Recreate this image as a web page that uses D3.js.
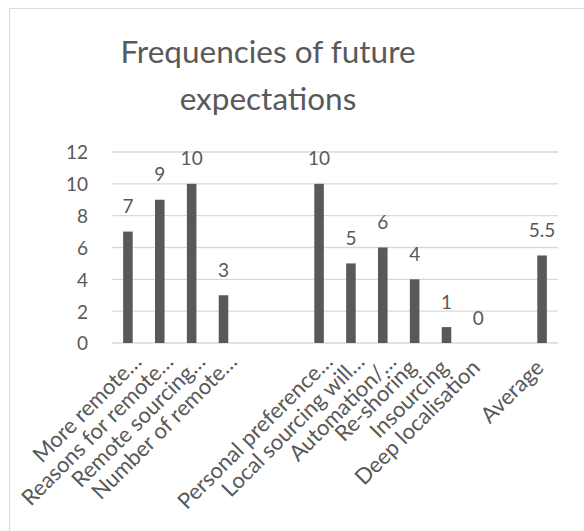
<!DOCTYPE html>
<html>
<head>
<meta charset="utf-8">
<script src="https://cdn.jsdelivr.net/npm/d3@7"></script>
<style>
    body { margin: 0; background: #fff; }
    svg { display: block; }
</style>
</head>
<body>
<svg></svg>
<script>
const width = 584;
const height = 531;

const titleLines = ["Frequencies of future", "expectations"];
const categories = [
    "More remote…",
    "Reasons for remote…",
    "Remote sourcing…",
    "Number of remote…",
    "",
    "",
    "Personal preference…",
    "Local sourcing will…",
    "Automation/…",
    "Re-shoring",
    "Insourcing",
    "Deep localisation",
    "",
    "Average"
];
const values = [7, 9, 10, 3, null, null, 10, 5, 6, 4, 1, 0, null, 5.5];
const yTicks = [0, 2, 4, 6, 8, 10, 12];

const textColor = "#595959";
const barColor = "#595959";
const gridColor = "#d9d9d9";
const font = "Lato, 'Open Sans', sans-serif";

const svg = d3.select("svg").attr("width", width).attr("height", height);

// chart frame
svg.append("rect")
    .attr("x", 9.5)
    .attr("y", 8.5)
    .attr("width", 700)
    .attr("height", 600)
    .attr("fill", "#fff")
    .attr("stroke", gridColor);

const plot = { left: 112, right: 558, top: 152, bottom: 343 };

const x = d3.scaleBand()
    .domain(d3.range(categories.length))
    .range([plot.left, plot.right])
    .paddingInner(0.7)
    .paddingOuter(0.35);

const y = d3.scaleLinear()
    .domain([0, 12])
    .range([plot.bottom, plot.top]);

// title
svg.append("text")
    .attr("x", 268)
    .attr("y", 63)
    .attr("text-anchor", "middle")
    .attr("font-family", font)
    .attr("font-size", 31.5)
    .attr("fill", textColor)
    .selectAll("tspan")
    .data(titleLines)
    .enter()
    .append("tspan")
    .attr("x", 268)
    .attr("dy", (d, i) => i === 0 ? 0 : 47)
    .text(d => d);

// gridlines
svg.append("g")
    .selectAll("line")
    .data(yTicks)
    .enter()
    .append("line")
    .attr("x1", plot.left)
    .attr("x2", plot.right)
    .attr("y1", d => y(d))
    .attr("y2", d => y(d))
    .attr("stroke", gridColor)
    .attr("stroke-width", 1.3);

// y axis labels
const yAxis = svg.append("g")
    .attr("transform", `translate(${plot.left - 24},0)`)
    .call(d3.axisLeft(y).tickValues(yTicks).tickSize(0).tickPadding(0));
yAxis.select(".domain").remove();
yAxis.selectAll("text")
    .attr("font-family", font)
    .attr("font-size", 19)
    .attr("fill", textColor)
    .attr("dy", "0.36em");

const barData = values
    .map((v, i) => ({ i, v }))
    .filter(d => d.v !== null);

// bars
svg.append("g")
    .selectAll("rect")
    .data(barData)
    .enter()
    .append("rect")
    .attr("x", d => x(d.i))
    .attr("width", x.bandwidth())
    .attr("y", d => y(d.v))
    .attr("height", d => y(0) - y(d.v))
    .attr("fill", barColor);

// value labels
svg.append("g")
    .selectAll("text")
    .data(barData)
    .enter()
    .append("text")
    .attr("x", d => x(d.i) + x.bandwidth() / 2)
    .attr("y", d => y(d.v) - 18.5)
    .attr("text-anchor", "middle")
    .attr("font-family", font)
    .attr("font-size", 19)
    .attr("fill", textColor)
    .text(d => d.v);

// category labels, rotated
svg.append("g")
    .selectAll("text")
    .data(categories.map((c, i) => ({ c, i })).filter(d => d.c !== ""))
    .enter()
    .append("text")
    .attr("transform", d => {
        const cx = x(d.i) + x.bandwidth() / 2;
        const cut = d.c.endsWith("…");
        return `translate(${cx + (cut ? 15 : 3)},${cut ? 363 : 369}) rotate(-45)`;
    })
    .attr("text-anchor", "end")
    .attr("font-family", font)
    .attr("font-size", 22)
    .attr("fill", textColor)
    .text(d => d.c);
</script>
</body>
</html>
